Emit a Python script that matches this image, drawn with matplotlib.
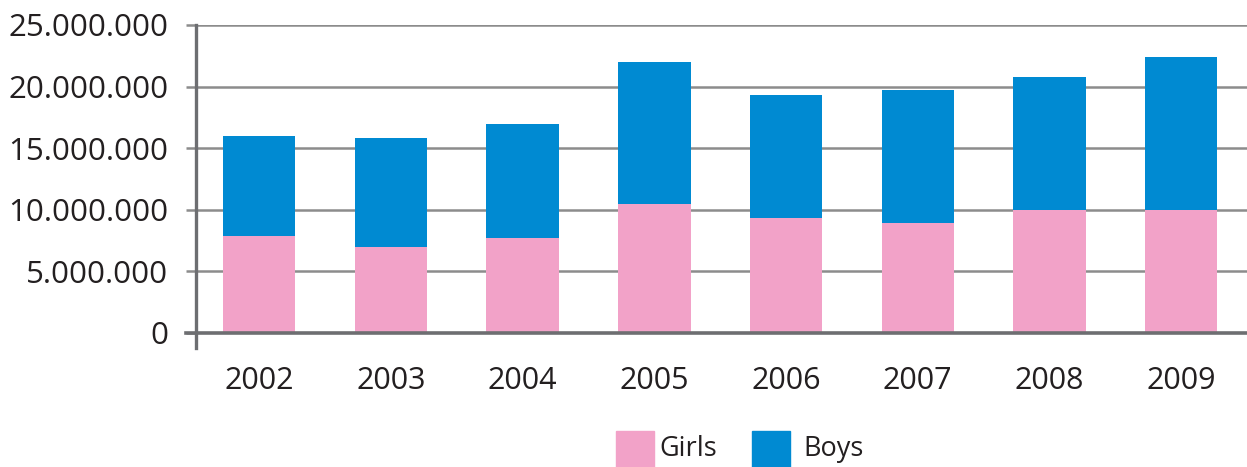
import matplotlib
matplotlib.use("Agg")
import matplotlib.pyplot as plt
from matplotlib.patches import Rectangle

years = ["2002", "2003", "2004", "2005", "2006", "2007", "2008", "2009"]
girls = [7.88e6, 6.95e6, 7.69e6, 10.43e6, 9.34e6, 8.93e6, 10.0e6, 10.0e6]
boys = [8.14e6, 8.83e6, 9.29e6, 11.54e6, 9.96e6, 10.77e6, 10.80e6, 12.36e6]
yticks = [0, 5e6, 10e6, 15e6, 20e6, 25e6]
ytick_labels = ["0", "5.000.000", "10.000.000", "15.000.000", "20.000.000", "25.000.000"]

PINK = "#F2A2C8"
BLUE = "#008AD2"
TXT = "#231F20"
GRID = "#8C8C8C"

plt.rcParams['font.family'] = ['Open Sans', 'DejaVu Sans']

W, H = 1247, 467
fig = plt.figure(figsize=(W / 100, H / 100), dpi=100)
ax = fig.add_axes([196 / W, 1 - 347.5 / H, 1 - 196 / W, (347.5 - 25) / H])

x = list(range(len(years)))
ax.bar(x, girls, width=0.55, color=PINK, zorder=3)
ax.bar(x, boys, bottom=girls, width=0.55, color=BLUE, zorder=3)

ax.set_xlim(-0.48, 7.5)
ax.set_ylim(-1.2e6, 25e6)

for v in yticks[1:]:
    ax.axhline(v, color=GRID, lw=1.8, zorder=1)
ax.axhline(0, color="#6D6E71", lw=2.6, zorder=4)
ax.plot([-0.48 - 10 / 131.7, -0.48], [0, 0], color="#6D6E71", lw=2.6, clip_on=False, zorder=4)

for s in ["top", "right", "bottom"]:
    ax.spines[s].set_visible(False)
ax.spines["left"].set_color("#6D6E71")
ax.spines["left"].set_linewidth(2.4)

ax.set_yticks(yticks)
ax.set_yticklabels(ytick_labels)
ax.tick_params(axis="y", length=7, width=1.8, color=GRID, pad=13, labelsize=22.5, labelcolor=TXT)
ax.set_xticks(x)
ax.set_xticklabels(years)
ax.tick_params(axis="x", length=0, pad=13, labelsize=22, labelcolor=TXT)

# legend
fig.patches.append(Rectangle((616 / W, 1 - 467 / H), 38 / W, 36 / H, transform=fig.transFigure, color=PINK))
fig.text(659 / W, 1 - 449 / H, "Girls", fontsize=19.5, color=TXT, va="center", ha="left")
fig.patches.append(Rectangle((752 / W, 1 - 467 / H), 38 / W, 36 / H, transform=fig.transFigure, color=BLUE))
fig.text(803 / W, 1 - 449 / H, "Boys", fontsize=19.5, color=TXT, va="center", ha="left")

fig.savefig("out.png", dpi=100)
